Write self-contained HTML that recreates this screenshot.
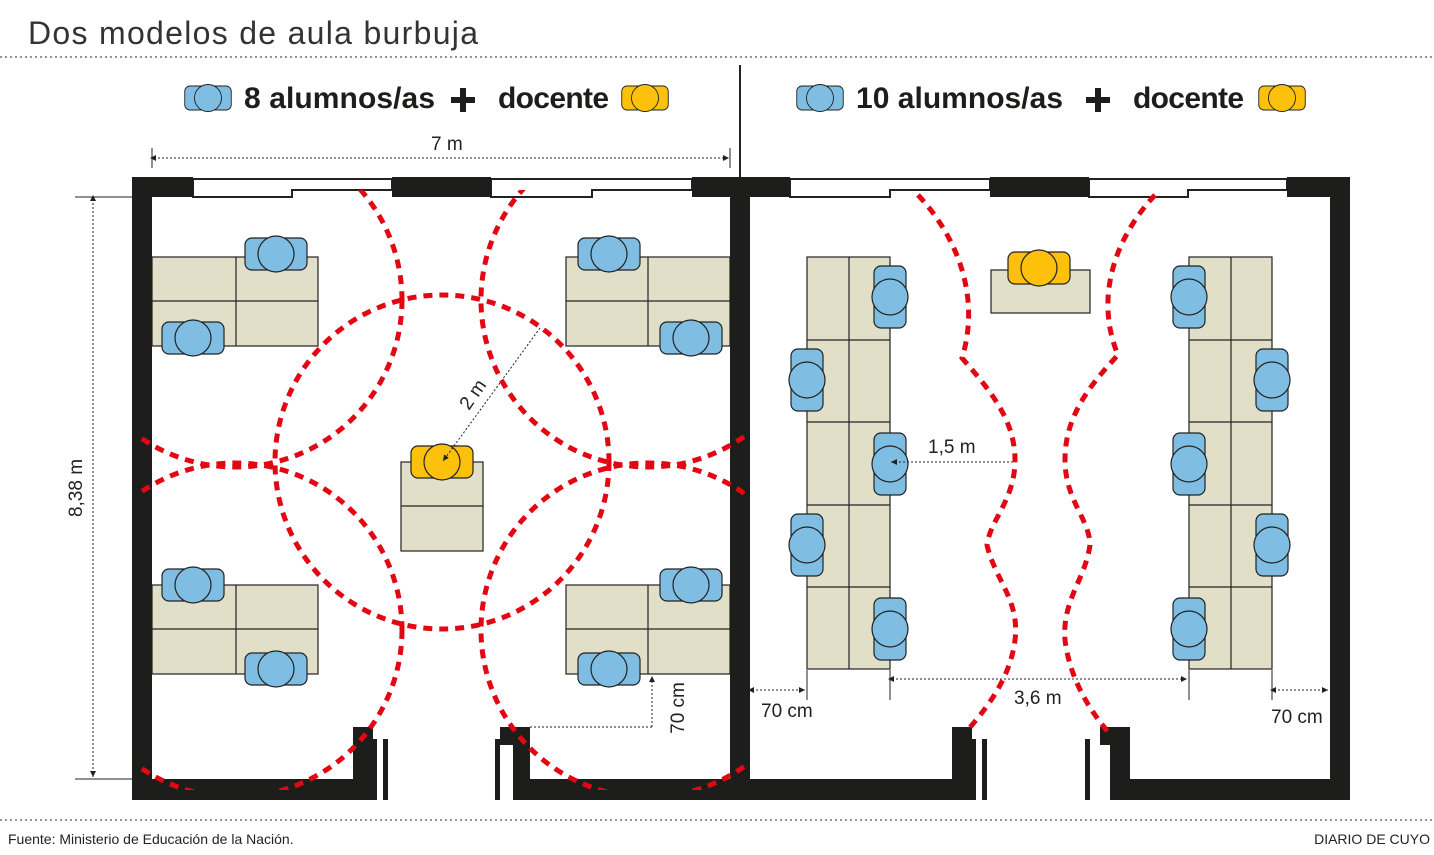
<!DOCTYPE html>
<html><head><meta charset="utf-8"><style>
html,body{margin:0;padding:0;background:#fff;}
svg{display:block;font-family:"Liberation Sans",sans-serif;}
</style></head><body>
<svg width="1434" height="855" viewBox="0 0 1434 855" xmlns="http://www.w3.org/2000/svg">
<defs>
<g id="ch"><rect x="-31" y="-16" width="62" height="32" rx="7" fill="#7fbde3" stroke="#222" stroke-width="1.2"/><circle r="18" fill="#7fbde3" stroke="#222" stroke-width="1.2"/></g>
<g id="cv"><rect x="-16" y="-31" width="32" height="62" rx="7" fill="#7fbde3" stroke="#222" stroke-width="1.2"/><circle r="18" fill="#7fbde3" stroke="#222" stroke-width="1.2"/></g>
<g id="ct"><rect x="-31" y="-16" width="62" height="32" rx="7" fill="#fdc10c" stroke="#222" stroke-width="1.2"/><circle r="18" fill="#fdc10c" stroke="#222" stroke-width="1.2"/></g>
<clipPath id="cl"><rect x="140" y="190" width="605" height="600"/></clipPath>
<marker id="ar" markerWidth="8" markerHeight="8" refX="6" refY="4" orient="auto"><path d="M0,1 L6,4 L0,7 z" fill="#222"/></marker>
<marker id="ar0" markerWidth="8" markerHeight="8" refX="2" refY="4" orient="auto-start-reverse"><path d="M0,1 L6,4 L0,7 z" fill="#222"/></marker>
</defs>
<text x="28" y="44" font-size="32" fill="#333" textLength="450">Dos modelos de aula burbuja</text>
<line x1="0" y1="57" x2="1434" y2="57" stroke="#555" stroke-width="1.2" stroke-dasharray="2,3"/>
<line x1="0" y1="820" x2="1434" y2="820" stroke="#555" stroke-width="1.2" stroke-dasharray="2,3"/>
<text x="8" y="844" font-size="14" fill="#222">Fuente: Ministerio de Educación de la Nación.</text>
<text x="1430" y="844" font-size="14" fill="#222" text-anchor="end">DIARIO DE CUYO</text>
<line x1="740" y1="65" x2="740" y2="180" stroke="#222" stroke-width="2"/>
<!-- legends -->
<use href="#ch" transform="translate(208,98) scale(0.75)"/>
<text x="244" y="108" font-size="30" font-weight="bold" fill="#1d1d1b" textLength="191">8 alumnos/as</text>
<path d="M451,100 H475 M463,88 V112" stroke="#1d1d1b" stroke-width="6"/>
<text x="498" y="108" font-size="30" font-weight="bold" fill="#1d1d1b" textLength="111">docente</text>
<use href="#ct" transform="translate(645,98) scale(0.75)"/>
<use href="#ch" transform="translate(820,98) scale(0.75)"/>
<text x="856" y="108" font-size="30" font-weight="bold" fill="#1d1d1b" textLength="207">10 alumnos/as</text>
<path d="M1086,100 H1110 M1098,88 V112" stroke="#1d1d1b" stroke-width="6"/>
<text x="1133" y="108" font-size="30" font-weight="bold" fill="#1d1d1b" textLength="111">docente</text>
<use href="#ct" transform="translate(1282,98) scale(0.75)"/>
<!-- desks -->
<g fill="#e2dfc8" stroke="#222" stroke-width="1.2">
<rect x="152" y="257" width="166" height="89"/><rect x="566" y="257" width="164" height="89"/>
<rect x="152" y="585" width="166" height="89"/><rect x="566" y="585" width="164" height="89"/>
<rect x="401" y="462" width="82" height="89"/>
<rect x="807" y="257" width="83" height="412"/><rect x="1189" y="257" width="83" height="412"/>
<rect x="991" y="270" width="99" height="43"/>
</g>
<g stroke="#222" stroke-width="1.2">
<line x1="236" y1="257" x2="236" y2="346"/><line x1="152" y1="301" x2="318" y2="301"/>
<line x1="648" y1="257" x2="648" y2="346"/><line x1="566" y1="301" x2="730" y2="301"/>
<line x1="236" y1="585" x2="236" y2="674"/><line x1="152" y1="629" x2="318" y2="629"/>
<line x1="648" y1="585" x2="648" y2="674"/><line x1="566" y1="629" x2="730" y2="629"/>
<line x1="401" y1="506" x2="483" y2="506"/>
<line x1="849" y1="257" x2="849" y2="669"/><line x1="1231" y1="257" x2="1231" y2="669"/>
<line x1="807" y1="340" x2="890" y2="340"/><line x1="807" y1="422" x2="890" y2="422"/><line x1="807" y1="505" x2="890" y2="505"/><line x1="807" y1="587" x2="890" y2="587"/>
<line x1="1189" y1="340" x2="1272" y2="340"/><line x1="1189" y1="422" x2="1272" y2="422"/><line x1="1189" y1="505" x2="1272" y2="505"/><line x1="1189" y1="587" x2="1272" y2="587"/>
</g>
<!-- chairs -->
<use href="#ch" transform="translate(276,254)"/><use href="#ch" transform="translate(193,338)"/>
<use href="#ch" transform="translate(609,254)"/><use href="#ch" transform="translate(691,338)"/>
<use href="#ch" transform="translate(193,585)"/><use href="#ch" transform="translate(276,669)"/>
<use href="#ch" transform="translate(691,585)"/><use href="#ch" transform="translate(609,669)"/>
<use href="#ct" transform="translate(442,462)"/>
<use href="#ct" transform="translate(1039,268)"/>
<use href="#cv" transform="translate(890,297)"/><use href="#cv" transform="translate(807,380)"/><use href="#cv" transform="translate(890,464)"/><use href="#cv" transform="translate(807,545)"/><use href="#cv" transform="translate(890,629)"/>
<use href="#cv" transform="translate(1189,297)"/><use href="#cv" transform="translate(1272,380)"/><use href="#cv" transform="translate(1189,464)"/><use href="#cv" transform="translate(1272,545)"/><use href="#cv" transform="translate(1189,629)"/>
<!-- dims -->
<g stroke="#222" stroke-width="1" stroke-dasharray="2,2" fill="none">
<line x1="154" y1="158" x2="729" y2="158" marker-start="url(#ar0)" marker-end="url(#ar)"/>
<line x1="93" y1="199" x2="93" y2="777" marker-start="url(#ar0)" marker-end="url(#ar)"/>
<line x1="540" y1="328" x2="443" y2="461" marker-end="url(#ar)"/>
<line x1="652" y1="727" x2="652" y2="676" marker-end="url(#ar)"/>
<line x1="530" y1="727" x2="652" y2="727"/>
<line x1="1013" y1="462" x2="891" y2="462" marker-end="url(#ar)"/>
<line x1="892" y1="679" x2="1187" y2="679" marker-start="url(#ar0)" marker-end="url(#ar)"/>
<line x1="752" y1="690" x2="805" y2="690" marker-start="url(#ar0)" marker-end="url(#ar)"/>
<line x1="1274" y1="690" x2="1328" y2="690" marker-start="url(#ar0)" marker-end="url(#ar)"/>
</g>
<g stroke="#222" stroke-width="1">
<line x1="152" y1="148" x2="152" y2="168"/><line x1="730" y1="148" x2="730" y2="168"/>
<line x1="75" y1="197" x2="132" y2="197"/><line x1="75" y1="779" x2="132" y2="779"/>
<line x1="807" y1="670" x2="807" y2="700"/><line x1="890" y1="670" x2="890" y2="700"/>
<line x1="1189" y1="670" x2="1189" y2="700"/><line x1="1272" y1="670" x2="1272" y2="700"/>
</g>
<g font-size="19" fill="#222">
<text x="431" y="150">7 m</text>
<text transform="translate(82,488) rotate(-90)" text-anchor="middle">8,38 m</text>
<text transform="translate(478,398) rotate(-55)" text-anchor="middle">2 m</text>
<text transform="translate(684,708) rotate(-90)" text-anchor="middle">70 cm</text>
<text x="928" y="453">1,5 m</text>
<text x="1014" y="704">3,6 m</text>
<text x="761" y="717">70 cm</text>
<text x="1271" y="723">70 cm</text>
</g>
<!-- walls -->
<g fill="#fff" stroke="#222" stroke-width="2">
<path d="M193,179 H392 V190 H292 V197 H193 Z"/>
<path d="M491,179 H692 V190 H592 V197 H491 Z"/>
<path d="M790,179 H990 V190 H890 V197 H790 Z"/>
<path d="M1089,179 H1287 V190 H1188 V197 H1089 Z"/>
</g>
<g fill="#1d1d1b">
<rect x="132" y="177" width="61" height="20"/><rect x="392" y="177" width="99" height="20"/><rect x="692" y="177" width="98" height="20"/>
<rect x="990" y="177" width="99" height="20"/><rect x="1287" y="177" width="63" height="20"/>
<rect x="132" y="177" width="20" height="623"/><rect x="730" y="177" width="20" height="623"/><rect x="1330" y="177" width="20" height="623"/>
<rect x="132" y="779" width="241" height="21"/><rect x="353" y="727" width="20" height="73"/><rect x="373" y="739" width="4" height="61"/><rect x="383" y="739" width="5" height="61"/>
<rect x="495" y="739" width="5" height="61"/><rect x="500" y="727" width="30" height="18"/><rect x="513" y="727" width="17" height="73"/><rect x="513" y="779" width="459" height="21"/>
<rect x="952" y="727" width="20" height="73"/><rect x="972" y="739" width="4" height="61"/><rect x="982" y="739" width="5" height="61"/>
<rect x="1085" y="739" width="5" height="61"/><rect x="1100" y="727" width="30" height="18"/><rect x="1110" y="727" width="20" height="73"/><rect x="1110" y="779" width="240" height="21"/>
</g>
<!-- red bubbles -->
<g fill="none" stroke="#e30613" stroke-width="5" stroke-dasharray="9,7" clip-path="url(#cl)">
<circle cx="442" cy="462" r="167"/>
<circle cx="235" cy="300" r="167"/><circle cx="648" cy="300" r="167"/>
<circle cx="235" cy="630" r="167"/><circle cx="648" cy="630" r="167"/>
</g>
<g fill="none" stroke="#e30613" stroke-width="5" stroke-dasharray="9,7">
<path d="M918,195 C960,240 980,300 962,358 C990,390 1015,420 1015,460 C1015,500 990,520 987,545 C995,580 1020,600 1015,640 C1010,680 985,710 966,732"/>
<path d="M1155,195 C1113,240 1095,300 1118,355 C1085,390 1065,420 1065,460 C1065,500 1090,520 1090,545 C1085,580 1062,600 1065,640 C1070,680 1090,710 1108,732"/>
</g>
</svg>
</body></html>
